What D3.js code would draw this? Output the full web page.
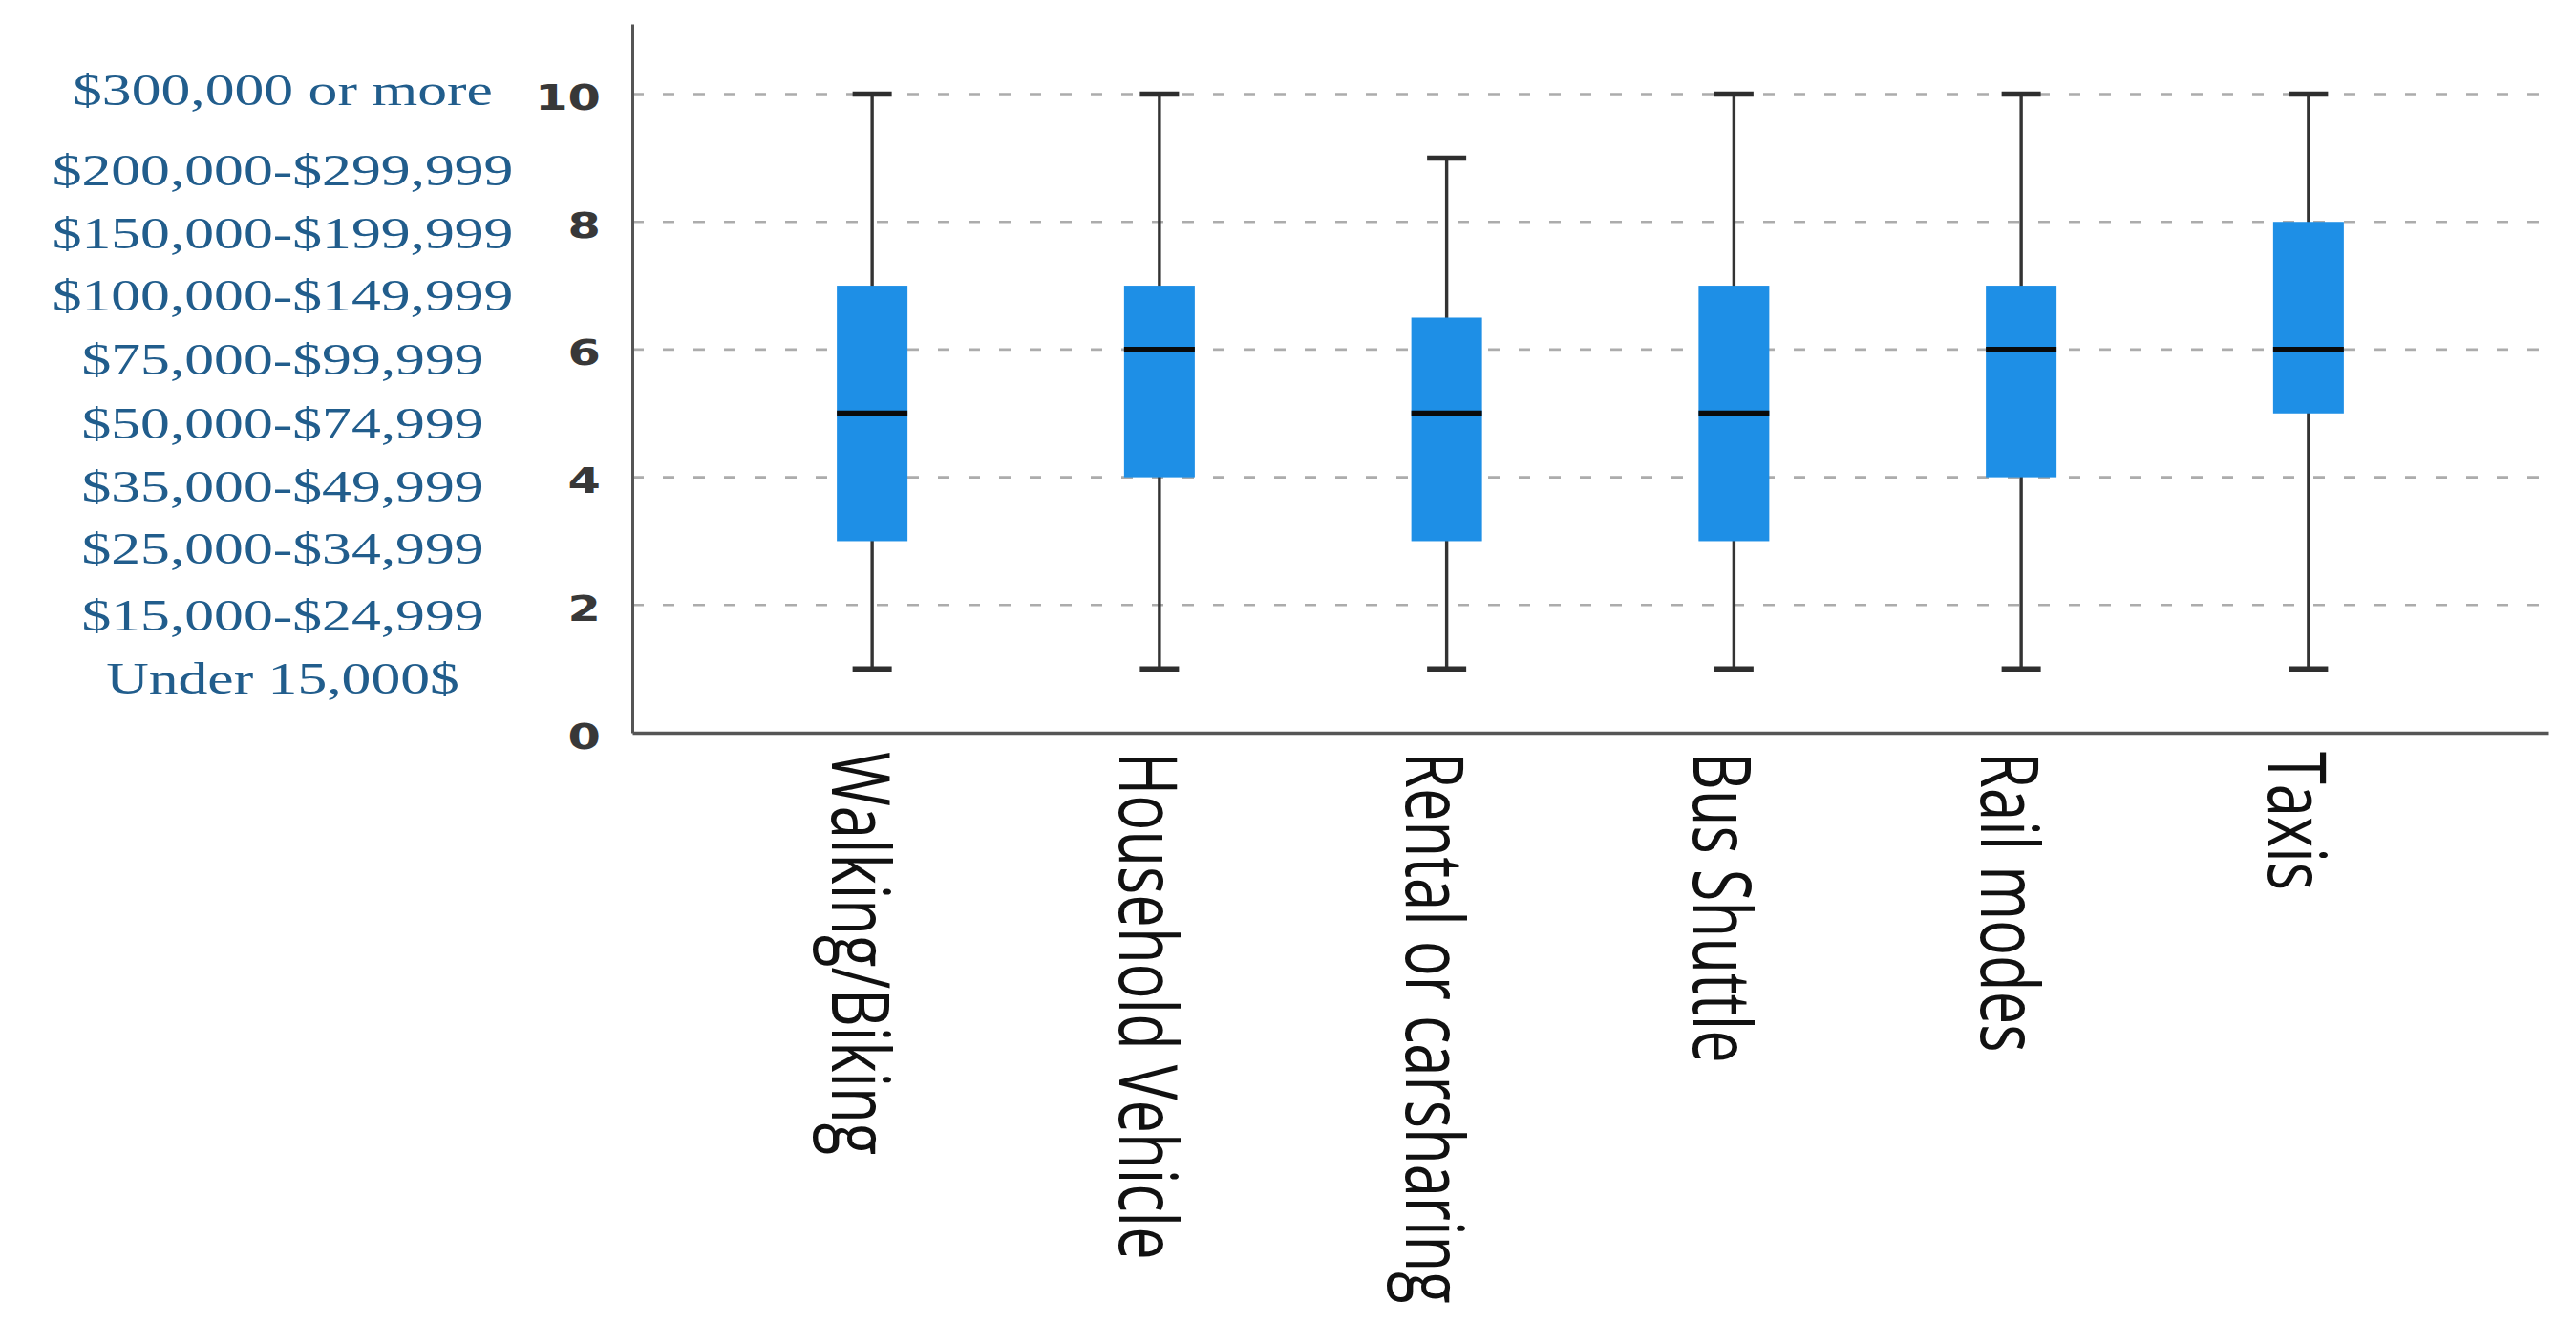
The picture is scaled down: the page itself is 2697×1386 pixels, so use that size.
<!DOCTYPE html>
<html>
<head>
<meta charset="utf-8">
<script src="https://cdn.jsdelivr.net/npm/d3@7"></script>
<style>
  html, body { margin: 0; padding: 0; background: #ffffff; }
  svg { display: block; }
</style>
</head>
<body>
<svg id="chart" width="2697" height="1386"></svg>
<script>
// ---- data ----
const categories = ["Walking/Biking", "Household Vehicle", "Rental or carsharing", "Bus Shuttle", "Rail modes", "Taxis"];
const whiskerLow  = [1, 1, 1, 1, 1, 1];
const q1Values    = [3, 4, 3, 3, 4, 5];
const medians     = [5, 6, 5, 5, 6, 6];
const q3Values    = [7, 7, 6.5, 7, 7, 8];
const whiskerHigh = [10, 10, 9, 10, 10, 10];
const yTicks = [0, 2, 4, 6, 8, 10];
const gridTicks = [2, 4, 6, 8, 10];
const incomeLabels = ["Under 15,000$", "$15,000-$24,999", "$25,000-$34,999", "$35,000-$49,999",
  "$50,000-$74,999", "$75,000-$99,999", "$100,000-$149,999", "$150,000-$199,999",
  "$200,000-$299,999", "$300,000 or more"];
// where each income label sits, in y-axis units
const incomeLabelAt = [0.85, 1.83, 2.88, 3.86, 4.84, 5.84, 6.84, 7.82, 8.80, 10.06];

const boxes = categories.map((c, i) => ({
  cat: c, lo: whiskerLow[i], q1: q1Values[i], med: medians[i], q3: q3Values[i], hi: whiskerHigh[i]
}));

// ---- layout ----
const svg = d3.select("#chart");
const plotLeft = 662, plotRight = 2668, plotBottom = 767, plotTop = 25;
const stretch = 1.38;   // horizontal stretch of the original picture

const y = d3.scaleLinear().domain([0, 11.1]).range([plotBottom, plotTop]);
const x = d3.scalePoint().domain(categories).range([plotLeft, plotRight]).padding(0.835);

const boxW = 74, capW = 41;

// grid
svg.append("g").selectAll("line").data(gridTicks).join("line")
  .attr("x1", plotLeft).attr("x2", plotRight)
  .attr("y1", d => y(d)).attr("y2", d => y(d))
  .attr("stroke", "#acacac").attr("stroke-width", 2.6)
  .attr("stroke-dasharray", "12,20");

// whiskers
const bx = svg.append("g");
bx.selectAll("line.whisker").data(boxes).join("line").attr("class", "whisker")
  .attr("x1", d => x(d.cat)).attr("x2", d => x(d.cat))
  .attr("y1", d => y(d.lo)).attr("y2", d => y(d.hi))
  .attr("stroke", "#333").attr("stroke-width", 3.4);
bx.selectAll("line.capHi").data(boxes).join("line").attr("class", "capHi")
  .attr("x1", d => x(d.cat) - capW / 2).attr("x2", d => x(d.cat) + capW / 2)
  .attr("y1", d => y(d.hi)).attr("y2", d => y(d.hi))
  .attr("stroke", "#2e2e2e").attr("stroke-width", 5.5);
bx.selectAll("line.capLo").data(boxes).join("line").attr("class", "capLo")
  .attr("x1", d => x(d.cat) - capW / 2).attr("x2", d => x(d.cat) + capW / 2)
  .attr("y1", d => y(d.lo)).attr("y2", d => y(d.lo))
  .attr("stroke", "#2e2e2e").attr("stroke-width", 5.5);
// boxes
bx.selectAll("rect").data(boxes).join("rect")
  .attr("x", d => x(d.cat) - boxW / 2).attr("width", boxW)
  .attr("y", d => y(d.q3)).attr("height", d => y(d.q1) - y(d.q3))
  .attr("fill", "#1e8fe6");
// medians
bx.selectAll("line.median").data(boxes).join("line").attr("class", "median")
  .attr("x1", d => x(d.cat) - boxW / 2).attr("x2", d => x(d.cat) + boxW / 2)
  .attr("y1", d => y(d.med)).attr("y2", d => y(d.med))
  .attr("stroke", "#0a0a0a").attr("stroke-width", 6);

// y axis
const yAxis = svg.append("g").attr("transform", `translate(${plotLeft},0)`)
  .call(d3.axisLeft(y).tickValues(yTicks).tickSize(0).tickSizeOuter(0).tickPadding(0));
yAxis.select(".domain").attr("stroke", "#555").attr("stroke-width", 3);
yAxis.selectAll(".tick text")
  .attr("x", 0).attr("dy", null).attr("y", 0)
  .attr("text-anchor", "end")
  .attr("transform", `translate(-33,16) scale(1.3,1)`)
  .style("font-family", "'DejaVu Sans', sans-serif")
  .style("font-size", "38px").style("font-weight", "bold")
  .style("fill", "#383838");

// x axis
const xAxis = svg.append("g").attr("transform", `translate(0,${plotBottom})`)
  .call(d3.axisBottom(x).tickSize(0).tickSizeOuter(0).tickPadding(0));
xAxis.select(".domain").attr("stroke", "#555").attr("stroke-width", 3.5);
xAxis.selectAll(".tick text")
  .attr("x", 0).attr("dy", null).attr("y", 31)
  .attr("text-anchor", "start")
  .attr("transform", `translate(0,20) rotate(90) scale(1,${stretch})`)
  .style("font-family", "'Open Sans', sans-serif")
  .style("font-size", "61.5px")
  .style("fill", "#111");

// income labels (left overlay)
svg.append("g").selectAll("text").data(incomeLabels).join("text")
  .attr("transform", (d, i) => `translate(296,${y(incomeLabelAt[i])}) scale(1.34,1)`)
  .attr("dy", "0.34em")
  .attr("text-anchor", "middle")
  .style("font-family", "'Liberation Serif', serif")
  .style("font-size", "46px")
  .style("fill", "#215d8c")
  .text(d => d);
</script>
</body>
</html>
